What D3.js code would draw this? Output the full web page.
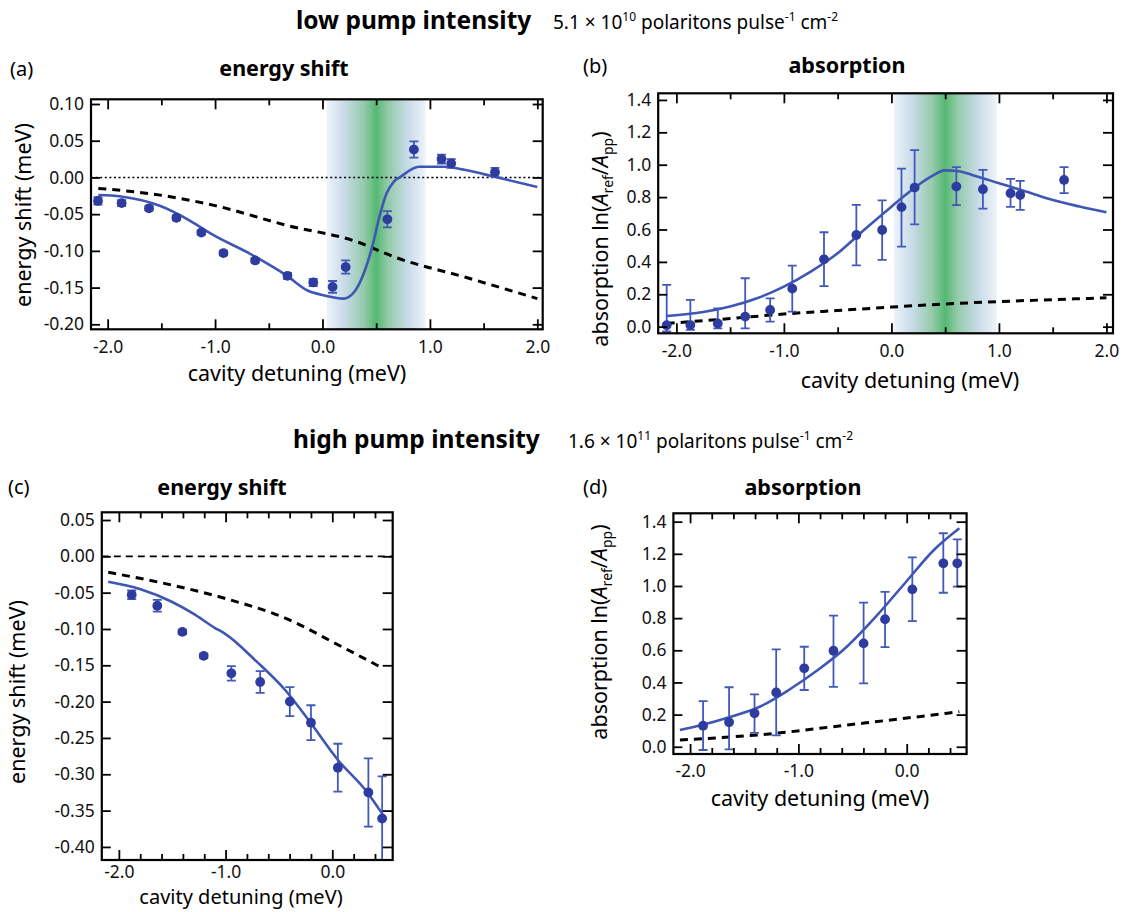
<!DOCTYPE html>
<html><head><meta charset="utf-8">
<script src="https://cdn.jsdelivr.net/npm/d3@7"></script>
<style>
body{margin:0;background:#fff;}
svg{display:block;font-family:"Noto Sans",sans-serif;}
</style></head>
<body>
<svg id="fig" width="1125" height="912"></svg>
<script>
// ---------------- data ----------------
// low pump intensity (panels a, b)
const topX      = [-2.09,-1.87,-1.615,-1.36,-1.128,-0.922,-0.627,-0.326,-0.086,0.094,0.216,0.604,0.851,1.108,1.198,1.606];
const aShift    = [-0.032,-0.035,-0.042,-0.055,-0.075,-0.103,-0.113,-0.134,-0.143,-0.149,-0.122,-0.057,0.038,0.025,0.019,0.007];
const aShiftErr = [0.005,0.004,0.003,0.003,0.003,0.003,0.003,0.004,0.005,0.008,0.009,0.011,0.011,0.006,0.006,0.006];
const aFitX   = [-2.087,-1.876,-1.509,-1.244,-1.01,-0.673,-0.339,-0.138,0.028,0.195,0.295,0.396,0.462,0.529,0.596,0.663,0.729,0.897,1.131,1.332,1.6,2.0];
const aFitY   = [-0.024,-0.026,-0.039,-0.058,-0.079,-0.104,-0.133,-0.154,-0.161,-0.165,-0.156,-0.126,-0.095,-0.054,-0.022,-0.006,0.001,0.0145,0.0145,0.010,0.001,-0.013];
const aModelX = [-2.087,-1.61,-1.01,-0.339,0.328,0.663,1.332,2.0];
const aModelY = [-0.015,-0.022,-0.038,-0.065,-0.088,-0.108,-0.136,-0.165];

const bAbs   = [0.009,0.01,0.02,0.062,0.103,0.235,0.416,0.566,0.597,0.738,0.859,0.865,0.849,0.824,0.813,0.906];
const bAbsHi = [0.258,0.165,0.113,0.299,0.175,0.377,0.583,0.752,0.78,0.976,1.09,0.985,0.968,0.912,0.9,0.985];
const bAbsLo = [-0.03,-0.02,-0.01,-0.01,0.031,0.093,0.25,0.379,0.412,0.494,0.632,0.75,0.729,0.74,0.721,0.824];
const bFitX  = [-2.09,-1.75,-1.5,-1.25,-1.0,-0.75,-0.5,-0.25,0,0.125,0.25,0.375,0.5,0.625,0.75,1.0,1.25,1.5,1.75,2.0];
const bFitY  = [0.066,0.09,0.124,0.175,0.247,0.34,0.453,0.6,0.741,0.81,0.875,0.93,0.965,0.96,0.937,0.886,0.835,0.782,0.742,0.706];
const bModelX = [-2.09,-1.5,-1.0,-0.5,0,0.5,1.0,1.5,2.0];
const bModelY = [0.02,0.05,0.078,0.1,0.121,0.14,0.155,0.167,0.178];

// high pump intensity (panels c, d)
const botX   = [-1.88,-1.64,-1.405,-1.205,-0.946,-0.676,-0.398,-0.2,0.052,0.338,0.467];
const cShift = [-0.053,-0.068,-0.104,-0.137,-0.161,-0.173,-0.2,-0.229,-0.291,-0.325,-0.361];
const cShiftErr = [0.006,0.008,0.003,0.003,0.01,0.015,0.02,0.024,0.033,0.047,0.058];
const cFitX  = [-2.1,-1.804,-1.505,-1.306,-1.106,-1.0,-0.708,-0.442,-0.209,0.057,0.323,0.489];
const cFitY  = [-0.035,-0.045,-0.0625,-0.0785,-0.098,-0.107,-0.145,-0.184,-0.228,-0.281,-0.324,-0.359];
const cModelX = [-2.1,-1.505,-1.003,-0.442,0.057,0.472];
const cModelY = [-0.022,-0.0395,-0.058,-0.085,-0.122,-0.154];

const dAbs   = [0.131,0.152,0.208,0.338,0.488,0.597,0.643,0.793,0.979,1.141,1.141];
const dAbsHi = [0.284,0.37,0.326,0.606,0.622,0.815,0.896,0.963,1.178,1.328,1.29];
const dAbsLo = [-0.02,-0.016,0.087,0.071,0.353,0.373,0.394,0.62,0.782,0.958,0.996];
const dFitX  = [-2.094,-1.893,-1.625,-1.357,-1.089,-0.821,-0.553,-0.285,-0.017,0.251,0.486];
const dFitY  = [0.104,0.135,0.187,0.249,0.353,0.477,0.622,0.809,1.017,1.224,1.359];
const dModelX = [-2.094,-1.223,-0.553,-0.017,0.486];
const dModelY = [0.042,0.083,0.135,0.177,0.218];

// tick values
const xMajorWide = [-2,-1,0,1,2];
const xMinorWide = [-1.5,-0.5,0.5,1.5];
const xMajorNarrow = [-2,-1,0];
const xMinorNarrow = [-1.8,-1.6,-1.4,-1.2,-0.8,-0.6,-0.4,-0.2,0.2,0.4];
const yTicksA = [-0.20,-0.15,-0.10,-0.05,0,0.05,0.10];
const yTicksC = [-0.40,-0.35,-0.30,-0.25,-0.20,-0.15,-0.10,-0.05,0,0.05];
const yTicksAbs = [0,0.2,0.4,0.6,0.8,1.0,1.2,1.4];

// ---------------- drawing ----------------
const svg = d3.select("#fig");
const dotColor = "#2d3c9e", lineColor = "#3e56b4", errColor = "#4159b8";
const fmt1 = v => d3.format(".1f")(v).replace("−","-");
const fmt2 = v => d3.format(".2f")(v).replace("−","-");

const defs = svg.append("defs");
const grad = defs.append("linearGradient").attr("id","band").attr("x1","0").attr("x2","1").attr("y1","0").attr("y2","0");
[[0,"#eef3fa"],[0.18,"#c8dbe8"],[0.38,"#93caa9"],[0.5,"#55b872"],[0.62,"#93caa9"],[0.82,"#c8dbe8"],[1,"#eef3fa"]]
  .forEach(([o,c]) => grad.append("stop").attr("offset",o).attr("stop-color",c));

function panel(cfg){
  const x = d3.scaleLinear().domain(cfg.xd).range([cfg.l, cfg.r]);
  const y = d3.scaleLinear().domain(cfg.yd).range([cfg.b, cfg.t]);
  const g = svg.append("g");
  const id = "clip"+cfg.name;
  defs.append("clipPath").attr("id",id).append("rect")
    .attr("x",cfg.l).attr("y",cfg.t).attr("width",cfg.r-cfg.l).attr("height",cfg.b-cfg.t);
  const plot = g.append("g").attr("clip-path",`url(#${id})`);

  if (cfg.band){
    plot.append("rect").attr("x",x(cfg.band[0])).attr("y",cfg.t)
      .attr("width",x(cfg.band[1])-x(cfg.band[0])).attr("height",cfg.b-cfg.t).attr("fill","url(#band)");
  }
  if (cfg.zero){
    plot.append("line").attr("x1",cfg.l).attr("x2",cfg.r).attr("y1",y(0)).attr("y2",y(0))
      .attr("stroke","#000").attr("stroke-width",1.6)
      .attr("stroke-dasharray",cfg.zero==="dot"?"2,2.6":"7,5");
  }
  const ax = (axis, tx, ty) => {
    const a = g.append("g").attr("transform",`translate(${tx},${ty})`).call(axis);
    a.select(".domain").remove();
    a.selectAll(".tick line").attr("stroke","#000").attr("stroke-width",1.8);
    a.selectAll(".tick text").attr("fill","#111").attr("font-size",17.5).attr("font-family","Noto Sans");
    return a;
  };
  ax(d3.axisBottom(x).tickValues(cfg.xMaj).tickFormat(fmt1).tickSize(-10).tickPadding(cfg.xpad||11), 0, cfg.b);
  ax(d3.axisBottom(x).tickValues(cfg.xMin).tickFormat("").tickSize(-6), 0, cfg.b);
  ax(d3.axisTop(x).tickValues(cfg.xMaj).tickFormat("").tickSize(-10), 0, cfg.t);
  ax(d3.axisTop(x).tickValues(cfg.xMin).tickFormat("").tickSize(-6), 0, cfg.t);
  ax(d3.axisLeft(y).tickValues(cfg.yTicks).tickFormat(cfg.yFmt).tickSize(-9).tickPadding(7), cfg.l, 0);
  ax(d3.axisRight(y).tickValues(cfg.yTicks).tickFormat("").tickSize(-10), cfg.r, 0);

  const line = d3.line().x(d=>x(d[0])).y(d=>y(d[1])).curve(d3.curveMonotoneX);
  plot.append("path").datum(d3.zip(cfg.modelX, cfg.modelY))
    .attr("d", line).attr("fill","none").attr("stroke","#000")
    .attr("stroke-width",3).attr("stroke-dasharray","8,6");
  plot.append("path").datum(d3.zip(cfg.fitX, cfg.fitY))
    .attr("d", line).attr("fill","none").attr("stroke",lineColor).attr("stroke-width",2.6);
  const pts = cfg.px.map((v,i)=>({x:v, y:cfg.py[i], lo:cfg.lo[i], hi:cfg.hi[i]}));
  const eb = plot.append("g").attr("stroke",errColor).attr("stroke-width",1.8);
  pts.forEach(p=>{
    eb.append("line").attr("x1",x(p.x)).attr("x2",x(p.x)).attr("y1",y(p.lo)).attr("y2",y(p.hi));
    eb.append("line").attr("x1",x(p.x)-4.5).attr("x2",x(p.x)+4.5).attr("y1",y(p.lo)).attr("y2",y(p.lo));
    eb.append("line").attr("x1",x(p.x)-4.5).attr("x2",x(p.x)+4.5).attr("y1",y(p.hi)).attr("y2",y(p.hi));
  });
  plot.append("g").selectAll("circle").data(pts).join("circle")
    .attr("cx",d=>x(d.x)).attr("cy",d=>y(d.y)).attr("r",4.9).attr("fill",dotColor);

  g.append("rect").attr("x",cfg.l).attr("y",cfg.t).attr("width",cfg.r-cfg.l).attr("height",cfg.b-cfg.t)
    .attr("fill","none").attr("stroke","#000").attr("stroke-width",2.2);

  svg.append("text").attr("x",cfg.letter[0]).attr("y",cfg.letter[1]).attr("font-size",20).text(cfg.letter[2]);
  svg.append("text").attr("x",cfg.title[0]).attr("y",cfg.title[1]).attr("text-anchor","middle")
    .attr("font-size",21.5).attr("font-weight","bold").text(cfg.title[2]);
  svg.append("text").attr("x",cfg.xlab[0]).attr("y",cfg.xlab[1]).attr("text-anchor","middle")
    .attr("font-size",cfg.xlabSize||21.5).text("cavity detuning (meV)");
  const yl = svg.append("text").attr("text-anchor","middle").attr("font-size",21.5)
    .attr("transform",`translate(${cfg.ylab[0]},${cfg.ylab[1]}) rotate(-90)`);
  if (cfg.ylab[2]==="shift") yl.text("energy shift (meV)");
  else {
    yl.append("tspan").text("absorption ln(");
    yl.append("tspan").attr("font-style","italic").text("A");
    yl.append("tspan").attr("font-size",14).attr("dy",5).text("ref");
    yl.append("tspan").attr("dy",-5).text("/");
    yl.append("tspan").attr("font-style","italic").text("A");
    yl.append("tspan").attr("font-size",14).attr("dy",5).text("pp");
    yl.append("tspan").attr("dy",-5).text(")");
  }
}

panel({name:"a", l:91, r:542.7, t:99.3, b:329.3, xd:[-2.155,2.05], yd:[-0.2068,0.1064],
  xMaj:xMajorWide, xMin:xMinorWide, yTicks:yTicksA, yFmt:fmt2, band:[0.04,0.96], zero:"dot",
  px:topX, py:aShift, lo:aShift.map((v,i)=>v-aShiftErr[i]), hi:aShift.map((v,i)=>v+aShiftErr[i]),
  fitX:aFitX, fitY:aFitY, modelX:aModelX, modelY:aModelY,
  letter:[10,76,"(a)"], title:[284,76,"energy shift"], xlab:[297,381], ylab:[31,215,"shift"]});

panel({name:"b", l:658.2, r:1113, t:93.3, b:333.3, xd:[-2.169,2.061], yd:[-0.041,1.441],
  xMaj:xMajorWide, xMin:xMinorWide, yTicks:yTicksAbs, yFmt:fmt1, band:[0.02,0.98],
  px:topX, py:bAbs, lo:bAbsLo, hi:bAbsHi,
  fitX:bFitX, fitY:bFitY, modelX:bModelX, modelY:bModelY,
  letter:[583,73,"(b)"], title:[847,73,"absorption"], xlab:[910,388], ylab:[608,239,"abs"]});

panel({name:"c", l:101.8, r:392.7, t:512.3, b:860, xd:[-2.16,0.566], yd:[-0.418,0.0606],
  xMaj:xMajorNarrow, xMin:xMinorNarrow, yTicks:yTicksC, yFmt:fmt2, zero:"dash", xpad:6,
  px:botX, py:cShift, lo:cShift.map((v,i)=>v-cShiftErr[i]), hi:cShift.map((v,i)=>v+cShiftErr[i]),
  fitX:cFitX, fitY:cFitY, modelX:cModelX, modelY:cModelY,
  letter:[8,494,"(c)"], title:[222,495,"energy shift"], xlab:[241,904], xlabSize:20, ylab:[25,692,"shift"]});

panel({name:"d", l:673.4, r:966.6, t:513.3, b:754, xd:[-2.154,0.553], yd:[-0.045,1.452],
  xMaj:xMajorNarrow, xMin:xMinorNarrow, yTicks:yTicksAbs, yFmt:fmt1,
  px:botX, py:dAbs, lo:dAbsLo, hi:dAbsHi,
  fitX:dFitX, fitY:dFitY, modelX:dModelX, modelY:dModelY,
  letter:[583,494,"(d)"], title:[803,495,"absorption"], xlab:[820,806], ylab:[607,632,"abs"]});

function header(x1, x2, y, bold, pre, exp){
  svg.append("text").attr("x",x1).attr("y",y).attr("font-size",24.5).attr("font-weight","bold").text(bold);
  const t = svg.append("text").attr("x",x2).attr("y",y).attr("font-size",19);
  t.append("tspan").text(pre + " × 10");
  t.append("tspan").attr("font-size",12).attr("dy",-8).text(exp);
  t.append("tspan").attr("dy",8).text(" polaritons pulse");
  t.append("tspan").attr("font-size",12).attr("dy",-8).text("-1");
  t.append("tspan").attr("dy",8).text(" cm");
  t.append("tspan").attr("font-size",12).attr("dy",-8).text("-2");
}
header(296, 553, 29, "low pump intensity", "5.1", "10");
header(293, 568, 448, "high pump intensity", "1.6", "11");
</script>
</body></html>
